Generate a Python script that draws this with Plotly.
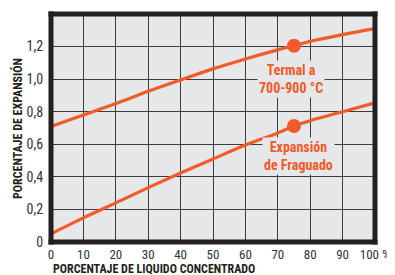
import plotly.graph_objects as go

x_pct = [0, 10, 20, 30, 40, 50, 60, 70, 75, 80, 90, 100]
termal = [0.71, 0.78, 0.85, 0.925, 0.995, 1.063, 1.124, 1.18, 1.205, 1.232, 1.273, 1.31]
fraguado = [0.05, 0.148, 0.24, 0.334, 0.424, 0.51, 0.595, 0.67, 0.712, 0.745, 0.8, 0.855]
marker_x = [75]
marker_termal = [1.205]
marker_fraguado = [0.712]
x_ticks = [0, 10, 20, 30, 40, 50, 60, 70, 80, 90, 100]
x_ticktext = ["0", "10", "20", "30", "40", "50", "60", "70", "80", "90", "100 %"]
y_ticks = [0, 0.2, 0.4, 0.6, 0.8, 1.0, 1.2, 1.4]
y_ticktext = ["0", "0,2", "0,4", "0,6", "0,8", "1,0", "1,2", "1,4"]

ORANGE = "#f15a29"
FRAME = "#231f20"
BG = "#e6e7e8"
NARROW = "Liberation Sans Narrow, Arial Narrow, Roboto Condensed, sans-serif"

W, H = 387, 267
ML, MR, MT, MB = 43, 20, 6, 33
PW, PH = W - ML - MR, H - MT - MB

fig = go.Figure()
fig.add_trace(go.Scatter(x=x_pct, y=termal, mode="lines", line=dict(color=ORANGE, width=3.2, shape="spline"), hoverinfo="skip"))
fig.add_trace(go.Scatter(x=x_pct, y=fraguado, mode="lines", line=dict(color=ORANGE, width=3.2, shape="spline"), hoverinfo="skip"))
fig.add_trace(go.Scatter(x=marker_x, y=marker_termal, mode="markers", marker=dict(color=ORANGE, size=14), hoverinfo="skip"))
fig.add_trace(go.Scatter(x=marker_x, y=marker_fraguado, mode="markers", marker=dict(color=ORANGE, size=14), hoverinfo="skip"))

# thick frame centred on the plot edges
hx, hy = 2.5 / PW, 2.5 / PH
frame_lines = [
    (0, -hy, 0, 1 + hy),      # left
    (1, -hy, 1, 1 + hy),      # right
    (-hx, 0, 1 + hx, 0),      # bottom
    (-hx, 1, 1 + hx, 1),      # top
]
for x0, y0, x1, y1 in frame_lines:
    fig.add_shape(type="line", xref="paper", yref="paper", x0=x0, y0=y0, x1=x1, y1=y1,
                  line=dict(color=FRAME, width=5), layer="above")

fig.add_annotation(x=74, y=1.0, xref="x", yref="y", text="<b>Termal a<br>700-900 °C</b>",
                   showarrow=False, bgcolor=BG, font=dict(family=NARROW, size=14, color=ORANGE),
                   borderpad=1)
fig.add_annotation(x=76.5, y=0.53, xref="x", yref="y", text="<b>Expansión<br>de Fraguado</b>",
                   showarrow=False, bgcolor=BG, font=dict(family=NARROW, size=14, color=ORANGE),
                   borderpad=1)
fig.add_annotation(x=0.0, y=-0.117, xref="paper", yref="paper", xanchor="left", yanchor="middle",
                   text="<b>PORCENTAJE DE LIQUIDO CONCENTRADO</b>", showarrow=False,
                   font=dict(family=NARROW, size=12, color=FRAME))
fig.add_annotation(x=-0.105, y=0.5, xref="paper", yref="paper", xanchor="center", yanchor="middle",
                   text="<b>PORCENTAJE DE EXPANSIÓN</b>", showarrow=False, textangle=-90,
                   font=dict(family=NARROW, size=12, color=FRAME))

fig.update_layout(
    width=W, height=H,
    margin=dict(l=ML, r=MR, t=MT, b=MB, autoexpand=False),
    paper_bgcolor="white", plot_bgcolor=BG,
    showlegend=False,
    xaxis=dict(range=[0, 100], tickvals=x_ticks, ticktext=x_ticktext, showgrid=True,
               gridcolor="#3c3c3c", gridwidth=1.3, zeroline=False, ticks="outside",
               ticklen=0, tickcolor="rgba(0,0,0,0)", automargin=False,
               tickfont=dict(family=NARROW, size=13, color="#333")),
    yaxis=dict(range=[0, 1.4], tickvals=y_ticks, ticktext=y_ticktext, showgrid=True,
               gridcolor="#3c3c3c", gridwidth=1.3, zeroline=False, ticks="outside",
               ticklen=4, tickcolor="rgba(0,0,0,0)", automargin=False,
               tickfont=dict(family=NARROW, size=14, color="#333")),
)

fig.write_html("out.html")
